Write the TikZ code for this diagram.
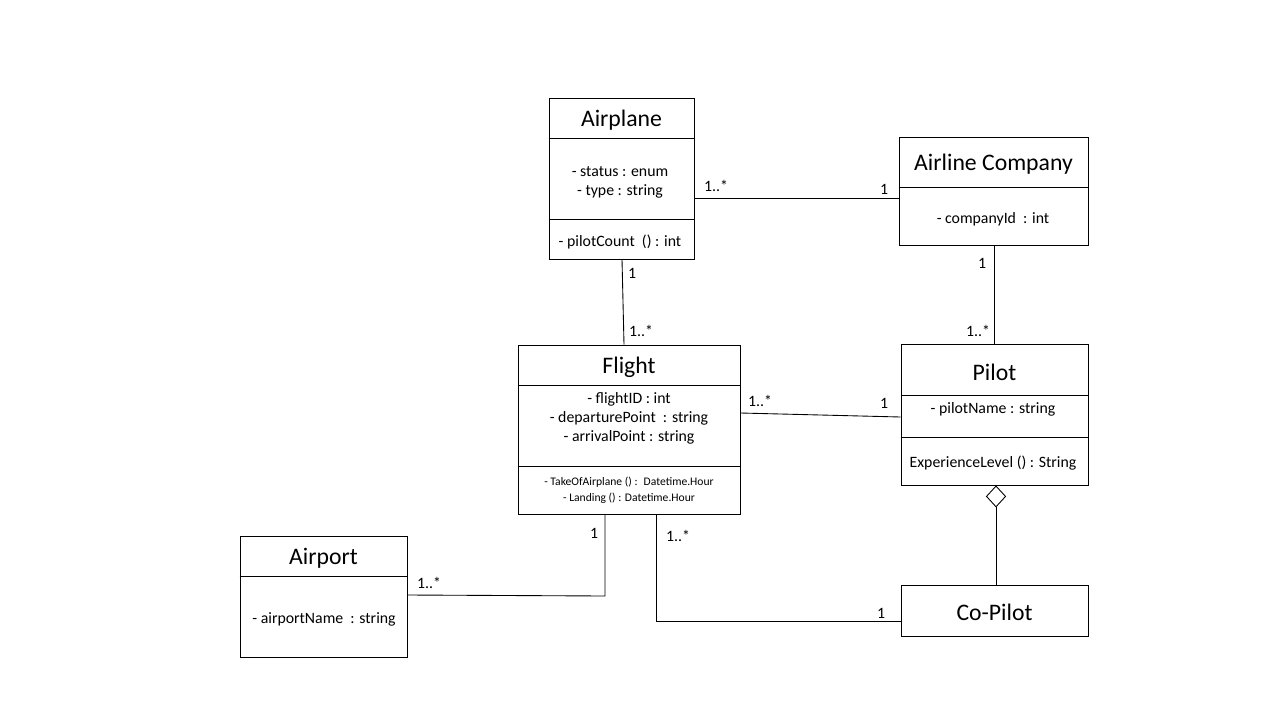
\documentclass[tikz,border=0pt]{standalone}
\usepackage{fontspec}
\setmainfont{Carlito}
\usetikzlibrary{positioning,fit,arrows.meta}

\tikzset{
  classbox/.style={draw, line width=0.5pt, inner sep=0pt},
  classname/.style={font=\fontsize{13.5}{15}\selectfont},
  member/.style={font=\fontsize{9}{10.5}\selectfont, inner sep=0pt},
  smallmember/.style={font=\fontsize{6.6}{8}\selectfont, inner sep=0pt},
  mult/.style={font=\fontsize{9}{10.5}\selectfont, inner sep=0pt},
  assoc/.style={line width=0.5pt}
}

\begin{document}
\begin{tikzpicture}[x=0.02cm, y=-0.02cm]
% page frame (pixel units, y down)
\fill[white] (0,0) rectangle (1280,720);
\useasboundingbox (0,0) rectangle (1280,720);

% class boxes
\node[classbox, fit={(549,98) (694,259)}] (airplane) {};
\node[classbox, fit={(899,137) (1088,245)}] (airline) {};
\node[classbox, fit={(518,345) (740,514)}] (flight) {};
\node[classbox, fit={(901,344) (1088,485)}] (pilot) {};
\node[classbox, fit={(240,536) (407,657)}] (airport) {};
\node[classbox, fit={(901,585) (1088,636)}] (copilot) {};

% compartments
\draw[assoc] (airplane.west |- 0,138) -- (airplane.east |- 0,138);
\draw[assoc] (airplane.west |- 0,219) -- (airplane.east |- 0,219);
\draw[assoc] (airline.west |- 0,187) -- (airline.east |- 0,187);
\draw[assoc] (flight.west |- 0,385) -- (flight.east |- 0,385);
\draw[assoc] (flight.west |- 0,466) -- (flight.east |- 0,466);
\draw[assoc] (pilot.west |- 0,395) -- (pilot.east |- 0,395);
\draw[assoc] (pilot.west |- 0,437) -- (pilot.east |- 0,437);
\draw[assoc] (airport.west |- 0,576) -- (airport.east |- 0,576);

% names
\node[classname] (airplanename) at (airplane.center |- 0,120) {Airplane};
\node[classname] (airlinename) at (airline.center |- 0,164) {Airline Company};
\node[classname] (flightname) at (flight.center |- 0,367) {Flight};
\node[classname] (pilotname) at (pilot.center |- 0,372) {Pilot};
\node[classname] (airportname) at (airport.center |- 0,558) {Airport};
\node[classname] (copilotname) at ([yshift=-1pt]copilot.center) {Co-Pilot};

% attributes and operations
\node[member] (status) at (620,172) {- status : enum};
\node[member] (type) at (620,191) {- type : string};
\node[member] (pilotcount) at (620,242) {- pilotCount~ () : int};
\node[member] (companyid) at (993,219) {- companyId~ : int};
\node[member] (flightid) at (629,399) {- flightID : int};
\node[member] (departure) at (629,418) {- departurePoint~ : string};
\node[member] (arrival) at (629,437) {- arrivalPoint : string};
\node[smallmember] (takeoff) at (629,482) {- TakeOfAirplane () : ~Datetime.Hour};
\node[smallmember] (landing) at (629,498) {- Landing () : Datetime.Hour};
\node[member] (pilotnm) at (993,409) {- pilotName : string};
\node[member] (experience) at (993,463) {ExperienceLevel () : String};
\node[member] (airportnm) at (324,619) {- airportName~ : string};

% associations
\draw[assoc] (airplane.east |- 0,198) -- (airline.west |- 0,198);
\draw[assoc] (airplane.south -| 622,0) -- (flight.north -| 624,0);
\draw[assoc] (airline.south -| 994,0) -- (pilot.north -| 994,0);
\draw[assoc] (flight.east |- 0,413) -- (pilot.west |- 0,417);
\draw[assoc] (flight.south -| 605,0) -- (605,596) -- (airport.east |- 0,595);
\draw[assoc] (flight.south -| 656,0) -- (656,621) -- (copilot.west |- 0,621);
\draw[assoc, {Diamond[open, length=12.5pt, width=11.5pt]}-] (pilot.south -| 996,0) -- (copilot.north -| 996,0);

% multiplicities
\node[mult] (m1) at (716,186) {1..*};
\node[mult] (m2) at (884,189) {1};
\node[mult] (m3) at (632,273) {1};
\node[mult] (m4) at (641,331) {1..*};
\node[mult] (m5) at (982,263) {1};
\node[mult] (m6) at (978,331) {1..*};
\node[mult] (m7) at (760,401) {1..*};
\node[mult] (m8) at (884,403) {1};
\node[mult] (m9) at (594,533) {1};
\node[mult] (m10) at (429,583) {1..*};
\node[mult] (m11) at (678,536) {1..*};
\node[mult] (m12) at (881,613) {1};
\end{tikzpicture}
\end{document}
